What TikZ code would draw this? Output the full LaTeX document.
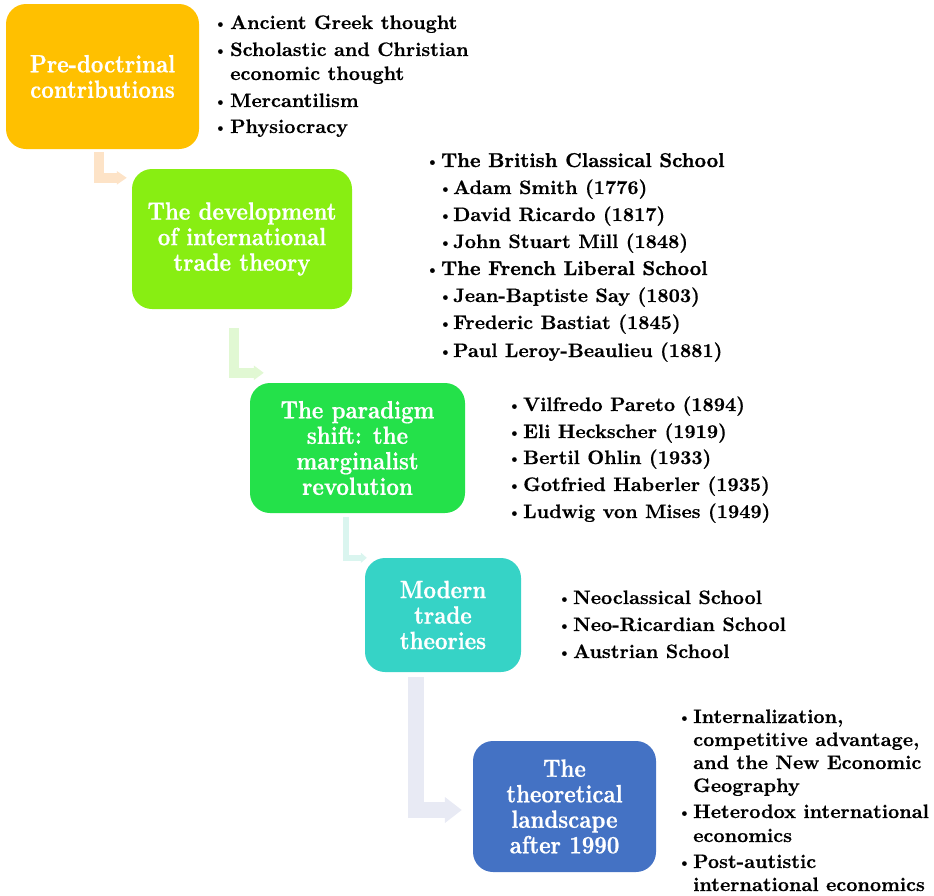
\documentclass[tikz,border=0pt]{standalone}
\usepackage{fontspec}
\usetikzlibrary{arrows.meta,calc}
\newfontfamily\boxfam{lmroman10-bold.otf}[FakeStretch=0.87,FakeBold=0.6]
\newfontfamily\listfam{lmroman10-bold.otf}[FakeBold=0.5]
\newfontfamily\headfam{lmroman10-bold.otf}[FakeBold=1.2]
\definecolor{cOrange}{HTML}{FFC000}
\definecolor{cLime}{HTML}{88EE12}
\definecolor{cGreen}{HTML}{24E14A}
\definecolor{cTeal}{HTML}{36D3C6}
\definecolor{cBlue}{HTML}{4472C4}
\definecolor{aPeach}{HTML}{FDE3C7}
\definecolor{aLime}{HTML}{E1F8D3}
\definecolor{aTeal}{HTML}{DAF5EF}
\definecolor{aBlue}{HTML}{E8EAF4}
\newcommand\boxfont{\boxfam\fontsize{25}{25.5}\selectfont}
\newcommand\listfont{\listfam\fontsize{19.5}{24}\selectfont}
\newcommand\bul[1]{\makebox[#1][l]{\hspace*{-2.5pt}\raisebox{1pt}{\fontsize{15}{15}\selectfont\textbullet}}}
\tikzset{
  box/.style={rectangle, rounded corners=20pt, text=white, align=center, font=\boxfont, inner sep=0pt},
  itm/.style={anchor=base west, inner sep=0pt, align=left, font=\listfont},
  hd/.style={itm, font=\headfam\fontsize{20}{24}\selectfont},
  conn/.style={line join=miter}
}
\begin{document}
\begin{tikzpicture}[x=1pt,y=-1pt]
\useasboundingbox (0,0) rectangle (934,895);
% boxes
\node[box, fill=cOrange, minimum width=193pt, minimum height=145pt] (b1) at (102.5,76.5) {Pre-doctrinal\\contributions};
\node[box, fill=cLime, minimum width=220pt, minimum height=140pt] (b2) at (242,239) {The development\\of international\\trade theory};
\node[box, fill=cGreen, minimum width=215pt, minimum height=130pt] (b3) at (357.5,448) {The paradigm\\shift: the\\marginalist\\revolution};
\node[box, fill=cTeal, minimum width=156pt, minimum height=114pt] (b4) at (443,615) {Modern\\trade\\theories};
\node[box, fill=cBlue, minimum width=183pt, minimum height=131pt] (b5) at (564.5,806.5) {The\\theoretical\\landscape\\after 1990};
% connectors
\draw[conn, aPeach, line width=10pt, -{Triangle[length=10pt,width=13pt]}]
  ($(b1.south)+(-4,3)$) |- ($(b2.north west)+(-5,9)$);
\draw[conn, aLime, line width=10pt, -{Triangle[length=10pt,width=14pt]}]
  ($(b2.south)+(-8,19)$) |- ($(b3.north west)+(14,-10)$);
\draw[conn, aTeal, line width=6pt, -{Triangle[length=6pt,width=10pt]}]
  ($(b3.south)+(-11.5,4)$) |- ($(b4.north west)+(2,0)$);
\draw[conn, aBlue, line width=16pt, -{Triangle[length=17pt,width=25pt]}]
  ($(b4.south)+(-27,5)$) |- ($(b5.west)+(-11,3.5)$);
% list 1
\node[itm] (l1a) at (216,29) {\bul{14pt}Ancient Greek thought};
\node[itm] (l1b) at (216,80) {\bul{14pt}Scholastic and Christian\\\hspace*{14pt}economic thought};
\node[itm] (l1c) at (216,107) {\bul{14pt}Mercantilism};
\node[itm] (l1d) at (216,133) {\bul{14pt}Physiocracy};
% list 2
\node[hd] (l2a) at (428,167) {\bul{13pt}The British Classical School};
\node[itm] (l2b) at (441,194) {\bul{12pt}Adam Smith (1776)};
\node[itm] (l2c) at (441,221) {\bul{12pt}David Ricardo (1817)};
\node[itm] (l2d) at (441,248) {\bul{12pt}John Stuart Mill (1848)};
\node[hd] (l2e) at (428,275) {\bul{13pt}The French Liberal School};
\node[itm] (l2f) at (441,302) {\bul{12pt}Jean-Baptiste Say (1803)};
\node[itm] (l2g) at (441,329) {\bul{12pt}Frederic Bastiat (1845)};
\node[itm] (l2h) at (441,357) {\bul{12pt}Paul Leroy-Beaulieu (1881)};
% list 3
\node[itm] (l3a) at (510,411) {\bul{13pt}Vilfredo Pareto (1894)};
\node[itm] (l3b) at (510,438) {\bul{13pt}Eli Heckscher (1919)};
\node[itm] (l3c) at (510,464) {\bul{13pt}Bertil Ohlin (1933)};
\node[itm] (l3d) at (510,491) {\bul{13pt}Gotfried Haberler (1935)};
\node[itm] (l3e) at (510,518) {\bul{13pt}Ludwig von Mises (1949)};
% list 4
\node[itm] (l4a) at (560,604) {\bul{13pt}Neoclassical School};
\node[itm] (l4b) at (560,631) {\bul{13pt}Neo-Ricardian School};
\node[itm] (l4c) at (560,658) {\bul{13pt}Austrian School};
% list 5
\node[itm, font=\listfam\fontsize{19.5}{23}\selectfont] (l5a) at (680,792) {\bul{13pt}Internalization,\\\hspace*{13pt}competitive advantage,\\\hspace*{13pt}and the New Economic\\\hspace*{13pt}Geography};
\node[itm, font=\listfam\fontsize{19.5}{24}\selectfont] (l5b) at (680,842) {\bul{13pt}Heterodox international\\\hspace*{13pt}economics};
\node[itm, font=\listfam\fontsize{19.5}{23}\selectfont] (l5c) at (680,891) {\bul{13pt}Post-autistic\\\hspace*{13pt}international economics};
\end{tikzpicture}
\end{document}
